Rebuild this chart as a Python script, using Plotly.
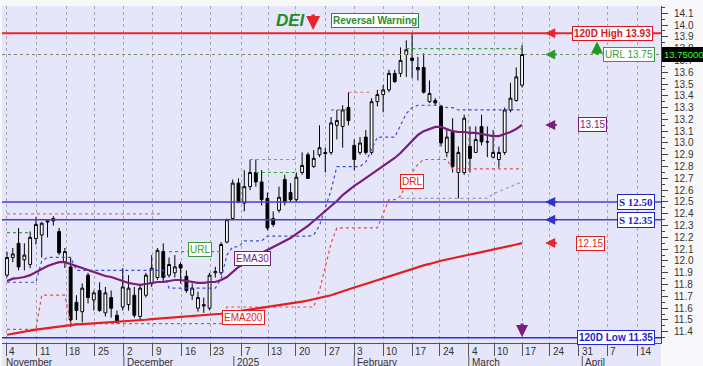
import plotly.graph_objects as go

# ---------------- data ----------------
# trading-day index 0 = 4 Nov 2024 ... 89 = 17 Mar 2025
X = list(range(90))
OPEN = [11.88, 12.03, 12.15, 12.01, 11.97, 12.19, 12.22, 12.33, 12.36, 12.25,
        11.99, 11.95, 11.65, 11.57, 11.88, 11.67, 11.75, 11.56, 11.69, 11.54,
        11.61, 11.63, 11.71, 11.53, 11.71, 11.81, 11.86, 12.08, 11.88, 11.90,
        11.97, 11.87, 11.71, 11.60, 11.63, 11.60, 11.90, 11.90, 12.16, 12.36,
        12.66, 12.49, 12.63, 12.75, 12.67, 12.53, 12.36, 12.43, 12.69, 12.58,
        12.52, 12.75, 12.90, 12.80, 12.90, 12.92, 12.92, 13.15, 13.14, 13.30,
        12.98, 12.92, 13.05, 12.92, 13.35, 13.41, 13.45, 13.59, 13.59, 13.75,
        13.72, 13.62, 13.64, 13.35, 13.36, 13.31, 12.92, 13.09, 12.75, 12.75,
        12.97, 12.92, 13.14, 13.01, 12.88, 12.86, 12.92, 13.28, 13.36, 13.49]
HIGH = [12.08, 12.11, 12.28, 12.15, 12.25, 12.37, 12.33, 12.35, 12.38, 12.28,
        12.11, 12.03, 11.71, 11.81, 11.90, 11.75, 11.82, 11.78, 11.75, 11.58,
        11.94, 11.88, 11.78, 11.80, 11.90, 12.05, 12.11, 12.15, 12.03, 12.05,
        11.99, 11.92, 11.81, 11.74, 11.69, 11.90, 11.95, 12.16, 12.36, 12.69,
        12.70, 12.77, 12.86, 12.86, 12.77, 12.58, 12.42, 12.63, 12.73, 12.66,
        12.75, 12.92, 12.92, 12.94, 13.15, 12.96, 13.22, 13.28, 13.32, 13.43,
        13.03, 13.05, 13.11, 13.38, 13.45, 13.49, 13.62, 13.62, 13.81, 13.87,
        13.93, 13.73, 13.76, 13.53, 13.38, 13.32, 13.11, 13.21, 12.97, 13.24,
        13.14, 13.14, 13.24, 13.14, 13.11, 12.97, 13.30, 13.51, 13.64, 13.83]
LOW = [11.86, 11.99, 11.92, 11.92, 11.94, 12.14, 12.03, 12.20, 12.30, 12.05,
       11.94, 11.44, 11.50, 11.48, 11.64, 11.58, 11.57, 11.53, 11.52, 11.47,
       11.58, 11.58, 11.52, 11.50, 11.69, 11.78, 11.84, 11.82, 11.86, 11.86,
       11.81, 11.73, 11.67, 11.57, 11.56, 11.58, 11.86, 11.88, 12.15, 12.35,
       12.49, 12.42, 12.60, 12.63, 12.47, 12.26, 12.29, 12.41, 12.47, 12.50,
       12.50, 12.73, 12.70, 12.79, 12.88, 12.75, 12.90, 13.03, 12.96, 13.15,
       12.77, 12.90, 12.90, 12.90, 13.31, 13.26, 13.43, 13.51, 13.56, 13.56,
       13.55, 13.53, 13.42, 13.34, 13.32, 12.97, 12.88, 12.75, 12.53, 12.73,
       12.75, 12.92, 12.98, 12.88, 12.87, 12.79, 12.90, 13.26, 13.35, 13.47]
CLOSE = [12.03, 12.06, 11.95, 12.05, 12.20, 12.31, 12.32, 12.34, 12.34, 12.07,
         12.08, 11.50, 11.58, 11.77, 11.69, 11.73, 11.58, 11.73, 11.60, 11.48,
         11.78, 11.77, 11.54, 11.77, 11.88, 11.94, 12.09, 11.86, 11.97, 11.95,
         11.94, 11.75, 11.77, 11.69, 11.62, 11.88, 11.91, 12.14, 12.35, 12.66,
         12.50, 12.63, 12.75, 12.67, 12.52, 12.28, 12.31, 12.54, 12.50, 12.52,
         12.71, 12.81, 12.70, 12.87, 12.96, 12.91, 13.17, 13.19, 13.28, 13.19,
         12.86, 13.00, 12.92, 13.35, 13.41, 13.45, 13.59, 13.52, 13.70, 13.79,
         13.70, 13.64, 13.43, 13.42, 13.34, 13.00, 13.05, 12.80, 12.92, 13.21,
         12.87, 13.03, 13.01, 13.01, 12.92, 12.92, 13.28, 13.38, 13.56, 13.75]

EMA30 = [11.83, 11.85, 11.856, 11.864, 11.88, 11.907, 11.932, 11.958, 11.975, 11.99,
         11.99, 11.975, 11.958, 11.94, 11.924, 11.907, 11.89, 11.873, 11.864, 11.847,
         11.83, 11.814, 11.805, 11.797, 11.805, 11.814, 11.822, 11.822, 11.83, 11.839,
         11.839, 11.83, 11.822, 11.814, 11.814, 11.822, 11.822, 11.839, 11.864, 11.907,
         11.949, 11.975, 12.0, 12.034, 12.068, 12.093, 12.119, 12.144, 12.169, 12.195,
         12.229, 12.263, 12.297, 12.339, 12.381, 12.424, 12.466, 12.508, 12.559, 12.60,
         12.636, 12.669, 12.703, 12.737, 12.771, 12.805, 12.839, 12.873, 12.915, 12.966,
         13.025, 13.068, 13.10, 13.119, 13.136, 13.136, 13.119, 13.10, 13.093, 13.093,
         13.085, 13.085, 13.076, 13.068, 13.059, 13.059, 13.076, 13.093, 13.119, 13.153]
EMA200 = [11.375, 11.385, 11.395, 11.40, 11.41, 11.418, 11.425, 11.432, 11.438, 11.445,
          11.452, 11.458, 11.462, 11.465, 11.468, 11.471, 11.475, 11.478, 11.480, 11.483,
          11.486, 11.490, 11.493, 11.497, 11.502, 11.507, 11.511, 11.515, 11.518, 11.521,
          11.524, 11.527, 11.530, 11.533, 11.538, 11.543, 11.548, 11.553, 11.560, 11.567,
          11.574, 11.581, 11.588, 11.595, 11.603, 11.610, 11.617, 11.624, 11.632, 11.639,
          11.646, 11.655, 11.665, 11.676, 11.687, 11.698, 11.710, 11.727, 11.745, 11.760,
          11.775, 11.790, 11.806, 11.822, 11.838, 11.855, 11.871, 11.887, 11.902, 11.918,
          11.935, 11.950, 11.963, 11.975, 11.990, 12.002, 12.013, 12.025, 12.035, 12.045,
          12.055, 12.065, 12.075, 12.085, 12.095, 12.107, 12.118, 12.130, 12.140, 12.152]
BLUE_STOP = [11.82, 11.82, 11.82, 11.82, 11.82, 11.82, 12.00, 12.03, 12.03, 12.03,
             12.03, 12.03, 11.92, 11.92, 11.92, 11.92, 11.92, 11.92, 11.92, 11.92,
             11.92, 11.92, 11.92, 11.92, 11.92, 11.92, 11.92, 11.92, 11.77, 11.77,
             11.77, 11.77, 11.77, 11.77, 11.77, 11.77, 11.77, 11.85, 12.05, 12.12,
             12.12, 12.17, 12.17, 12.17, 12.17, 12.21, 12.21, 12.21, 12.21, 12.21,
             12.21, 12.21, 12.21, 12.22, 12.30, 12.45, 12.60, 12.80, 12.80, 12.80,
             12.80, 12.80, 12.84, 12.95, 13.05, 13.05, 13.05, 13.05, 13.15, 13.25,
             13.30, 13.32, 13.32, 13.32, 13.32, 13.32, 13.30, 13.30, 13.28, 13.28,
             13.28, 13.28, 13.28, 13.28, 13.28, 13.28, 13.28, 13.28, 13.28, 13.28]
DRL = [11.42, 11.42, 11.42, 11.42, 11.42, 11.42, 11.71, 11.71, 11.71, 11.71,
       11.71, 11.47, 11.47, 11.47, 11.47, 11.47, 11.47, 11.47, 11.47, 11.47,
       11.47, 11.47, 11.47, 11.47, 11.47, 11.47, 11.47, 11.47, 11.47, 11.47,
       11.47, 11.47, 11.47, 11.47, 11.47, 11.47, 11.47, 11.47, 11.61, 11.61,
       11.61, 11.61, 11.61, 11.61, 11.61, 11.61, 11.61, 11.61, 11.61, 11.61,
       11.61, 11.61, 11.61, 11.61, 11.75, 11.95, 12.15, 12.28, 12.28, 12.28,
       12.28, 12.28, 12.28, 12.28, 12.28, 12.40, 12.52, 12.52, 12.55, 12.65,
       12.75, 12.82, 12.86, 12.86, 12.86, 12.86, 12.86, 12.78, 12.78, 12.78,
       12.78, 12.78, 12.78, 12.78, 12.78, 12.78, 12.78, 12.78, 12.78, 12.78]
N_ = None
RES_HIGH = [12.40, 12.40, 12.40, 12.40, 12.40, 12.40, 12.40, 12.40, 12.40, 12.40,
            12.40, 12.40, 12.40, 12.40, 12.40, 12.40, 12.40, 12.40, 12.40, 12.40,
            12.40, 12.40, 12.40, 12.40, 12.40, 12.40, 12.40, 12.40, N_, N_,
            N_, N_, N_, N_, N_, N_, N_, N_, N_, N_,
            N_, N_, 12.86, 12.86, 12.86, 12.86, 12.86, 12.86, 12.86, 12.86,
            12.86, N_, N_, N_, N_, N_, N_, N_, N_, 13.43,
            13.43, 13.43, 13.43, 13.43, N_, N_, N_, N_, N_, N_,
            N_, N_, N_, N_, N_, N_, N_, N_, N_, N_,
            N_, N_, N_, N_, N_, N_, N_, N_, N_, N_]
URL_LINE = [12.24, 12.24, 12.24, 12.24, 12.24, N_, N_, N_, N_, N_,
            N_, N_, N_, N_, N_, N_, N_, N_, N_, N_,
            N_, N_, N_, N_, N_, N_, N_, N_, 12.08, 12.08,
            12.08, 12.08, 12.08, 12.08, 12.08, 12.08, 12.08, 12.08, N_, N_,
            N_, N_, N_, 12.75, 12.75, 12.75, 12.75, 12.75, 12.75, 12.75,
            12.75, N_, N_, N_, N_, N_, 13.28, 13.28, 13.28, 13.28,
            N_, N_, N_, N_, N_, N_, N_, N_, N_, 13.80,
            13.80, 13.80, 13.80, 13.80, 13.80, 13.80, 13.80, 13.80, 13.80, 13.80,
            13.80, 13.80, 13.80, 13.80, 13.80, 13.80, 13.80, 13.80, 13.80, 13.80]
LOWER_DOTS = [N_] * 68 + [12.53, 12.53, 12.53, 12.53, 12.53, 12.53, 12.53, 12.53,
                          12.53, 12.53, 12.53, 12.53, 12.53, 12.53, 12.53, 12.53,
                          12.57, 12.59, 12.61, 12.63, 12.65, 12.67]

HIGH_120D = 13.93
URL_LEVEL = 13.75
SUPPORT_1 = 12.50
SUPPORT_2 = 12.35
LOW_120D = 11.35
LAST_PRICE = 13.75

# date axis (positions in trading-day units, labels as printed)
WEEK_POS = [-0.17, 5.18, 10.2, 15.2, 20.2, 25.2, 30.2, 35.1, 40.6, 45.1, 49.9, 55.1,
            60.0, 65.0, 70.0, 74.8, 79.8, 84.2, 89.0, 93.8, 98.8, 103.7, 108.9]
WEEK_LABELS = ["4", "11", "18", "25", "2", "9", "16", "23", "7", "13", "20", "27",
               "3", "10", "17", "24", "4", "10", "17", "24", "31", "7", "14"]
MONTH_POS = [-0.7, 20.2, 39.2, 60.0, 79.8, 99.4]
MONTH_LABELS = ["November", "December", "2025", "February", "March", "April"]

# ---------------- figure ----------------
FONT = "Liberation Sans, Arial, sans-serif"
LAV = "#E6E6FA"
fig = go.Figure()

fig.add_trace(go.Scatter(x=X, y=LOWER_DOTS, mode="lines",
                         line=dict(color="#9A9AA8", width=1.2, dash="dot")))
fig.add_trace(go.Scatter(x=X, y=RES_HIGH, mode="lines",
                         line=dict(color="#E86A78", width=1.2, dash="dot")))
fig.add_trace(go.Scatter(x=X, y=URL_LINE, mode="lines",
                         line=dict(color="#3E9E3E", width=1.2, dash="dot")))
fig.add_trace(go.Scatter(x=X, y=DRL, mode="lines",
                         line=dict(color="#E84A4A", width=1.2, dash="dot")))
fig.add_trace(go.Scatter(x=X, y=BLUE_STOP, mode="lines",
                         line=dict(color="#3C4CD8", width=1.2, dash="dot")))

fig.add_trace(go.Candlestick(
    x=X, open=OPEN, high=HIGH, low=LOW, close=CLOSE,
    increasing=dict(line=dict(color="#000000", width=1), fillcolor="#FFFFFF"),
    decreasing=dict(line=dict(color="#000000", width=1), fillcolor="#000000"),
    whiskerwidth=0, hoverinfo="skip"))

fig.add_trace(go.Scatter(x=X, y=EMA200, mode="lines",
                         line=dict(color="#E41E1E", width=2.2)))
fig.add_trace(go.Scatter(x=X, y=EMA30, mode="lines",
                         line=dict(color="#7A1C7A", width=2.2)))

shapes = [
    dict(type="rect", xref="paper", yref="paper", x0=0, x1=1, y0=-23 / 337, y1=0,
         fillcolor=LAV, line=dict(width=0), layer="below"),
    dict(type="line", xref="paper", yref="y", x0=0, x1=1, y0=URL_LEVEL, y1=URL_LEVEL,
         line=dict(color="#6F8F6F", width=1, dash="dot")),
    dict(type="line", xref="paper", yref="y", x0=0, x1=1, y0=HIGH_120D, y1=HIGH_120D,
         line=dict(color="#E8262B", width=2)),
    dict(type="line", xref="paper", yref="y", x0=0, x1=1, y0=SUPPORT_1, y1=SUPPORT_1,
         line=dict(color="#4040D2", width=1.5)),
    dict(type="line", xref="paper", yref="y", x0=0, x1=1, y0=SUPPORT_2, y1=SUPPORT_2,
         line=dict(color="#4040D2", width=1.5)),
    dict(type="line", xref="paper", yref="y", x0=0, x1=1, y0=LOW_120D, y1=LOW_120D,
         line=dict(color="#2A2AE0", width=1.5)),
]
for mp in MONTH_POS[1:]:
    shapes.append(dict(type="line", xref="x", yref="paper", x0=mp, x1=mp,
                       y0=-13 / 337, y1=-23 / 337, line=dict(color="#555", width=1)))

ann = []


def box(text, x, y, color, size=10, bold=False, xref="x", yref="y", xanchor="center",
        family=FONT, bg="#FFFFFF", border=None):
    t = "<b>%s</b>" % text if bold else text
    return dict(text=t, x=x, y=y, xref=xref, yref=yref, xanchor=xanchor, yanchor="middle",
                showarrow=False, font=dict(family=family, size=size, color=color),
                bgcolor=bg, bordercolor=border or color, borderwidth=1, borderpad=1)


def arrow(x, y, ax, ay, color, width=2.0, size=1.0):
    return dict(x=x, y=y, xref="x", yref="y", ax=ax, ay=ay, text="", showarrow=True,
                arrowhead=2, arrowsize=size, arrowwidth=width, arrowcolor=color,
                standoff=0)


# right-side level labels
ann.append(box("120D High %.2f" % HIGH_120D, 0.9879, HIGH_120D, "#E0141E", bold=True,
               xref="paper", xanchor="right"))
ann.append(box("URL %.2f" % URL_LEVEL, 0.9909, URL_LEVEL, "#3C9A3C",
               xref="paper", xanchor="right"))
ann.append(box("S %.2f" % SUPPORT_1, 0.9909, SUPPORT_1, "#2222C8", size=11, bold=True,
               xref="paper", xanchor="right", family="Liberation Serif, serif"))
ann.append(box("S %.2f" % SUPPORT_2, 0.9909, SUPPORT_2, "#2222C8", size=11, bold=True,
               xref="paper", xanchor="right", family="Liberation Serif, serif"))
ann.append(box("120D Low %.2f" % LOW_120D, 0.9909, LOW_120D, "#2222D8", bold=True,
               xref="paper", xanchor="right"))
ann.append(box("%.2f" % EMA30[-1], 0.8968, EMA30[-1], "#7A1C7A", xref="paper"))
ann.append(box("%.2f" % EMA200[-1], 0.8923, EMA200[-1], "#E41E1E", xref="paper"))
ann.append(box("%.5f" % LAST_PRICE, 1.0015, LAST_PRICE, "#33FF33", size=9.5,
               xref="paper", xanchor="left", bg="#000000", border="#000000"))

# in-chart line labels
ann.append(box("URL", 33.35, 12.10, "#3C9A3C"))
ann.append(box("EMA30", 42.5, 12.025, "#7A1C7A"))
ann.append(box("EMA200", 40.8, 11.525, "#E41E1E"))
ann.append(box("DRL", 69.9, 12.67, "#E41E1E"))

# title
ann.append(dict(text="<b><i>DEI</i></b>", x=0.4385, y=0.9555, xref="paper", yref="paper",
                xanchor="center", yanchor="middle", showarrow=False,
                font=dict(family=FONT, size=17, color="#1E8C1E")))
ann.append(box("Reversal Warning", 0.5653, 0.957, "#2E8B2E", bold=True,
               xref="paper", yref="paper"))

# arrows
ann.append(arrow(93.0, HIGH_120D, 13, 0, "#E8262B"))
ann.append(arrow(93.0, URL_LEVEL, 13, 0, "#2E9A2E"))
ann.append(arrow(93.0, EMA30[-1], 13, 0, "#7A1C7A"))
ann.append(arrow(93.0, SUPPORT_1, 13, 0, "#3030D0"))
ann.append(arrow(93.0, SUPPORT_2, 13, 0, "#3030D0"))
ann.append(arrow(93.0, EMA200[-1], 13, 0, "#E8262B"))
ann.append(arrow(101.95, 13.86, 0, 14, "#1E9A1E", 3.0, 0.8))
ann.append(arrow(89.0, 11.355, 0, -15, "#7A1C7A", 3.0, 0.8))
ann.append(arrow(52.9, 13.958, 0, -17, "#E8262B", 3.5, 0.8))

# date labels
for p, t in zip(WEEK_POS, WEEK_LABELS):
    ann.append(dict(text=t, x=p, y=-8 / 337, xref="x", yref="paper", xanchor="left",
                    yanchor="middle", xshift=1, showarrow=False,
                    font=dict(family=FONT, size=10, color="#333")))
for p, t in zip(MONTH_POS, MONTH_LABELS):
    ann.append(dict(text=t, x=p, y=-19 / 337, xref="x", yref="paper", xanchor="left",
                    yanchor="middle", xshift=1, showarrow=False,
                    font=dict(family=FONT, size=10, color="#333")))

fig.update_layout(
    width=703, height=366, autosize=False,
    margin=dict(l=2, r=42, t=6, b=23, pad=0),
    paper_bgcolor="#F8F8FA", plot_bgcolor=LAV,
    showlegend=False, hovermode=False,
    font=dict(family=FONT, size=10, color="#333"),
    shapes=shapes, annotations=ann,
    xaxis=dict(range=[-0.864, 113.01], rangeslider=dict(visible=False),
               tickmode="array", tickvals=WEEK_POS, showticklabels=False,
               ticks="outside", ticklen=12, tickcolor="#555",
               showgrid=True, gridcolor="#A4A4B4", griddash="dot", gridwidth=1,
               showline=True, linecolor="#555", zeroline=False, fixedrange=True,
               automargin=False),
    yaxis=dict(range=[11.305, 14.161], side="right", tick0=11.4, dtick=0.1,
               tickformat=".1f", ticks="outside", ticklen=6, tickcolor="#444",
               minor=dict(dtick=0.05, ticklen=3, ticks="outside", tickcolor="#444"),
               showgrid=False, showline=True, linecolor="#444", zeroline=False,
               ticklabelstandoff=4, tickfont=dict(family=FONT, size=10, color="#333"),
               fixedrange=True, automargin=False),
)

fig.write_html("out.html", config={"displayModeBar": False},
               post_script="document.body.style.margin='0';"
                           "document.body.style.overflow='hidden';")
